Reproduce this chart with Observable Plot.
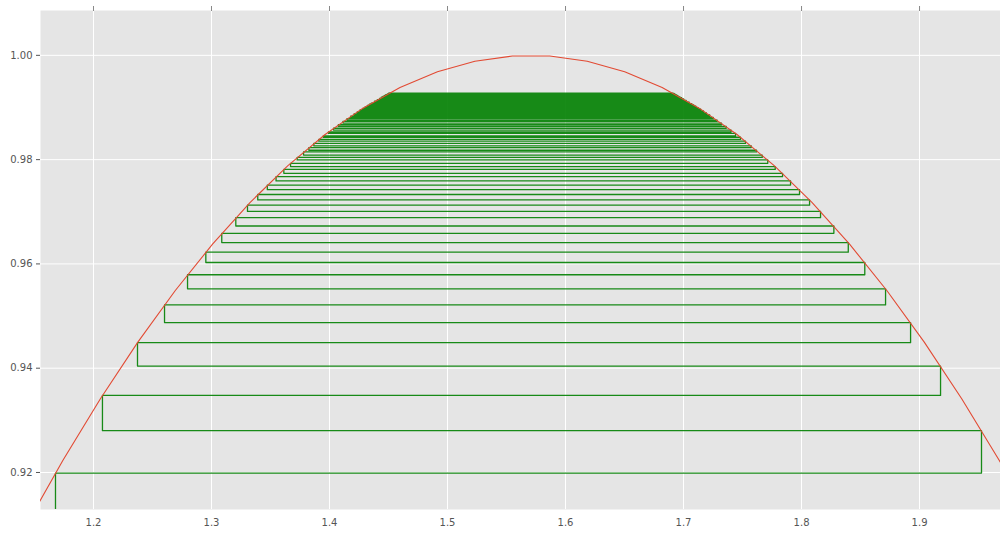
<!DOCTYPE html>
<html>
<head>
<meta charset="utf-8">
<script src="https://cdn.jsdelivr.net/npm/d3@7"></script>
<script src="https://cdn.jsdelivr.net/npm/@observablehq/plot@0.6"></script>
<style>
  html, body { margin: 0; padding: 0; background: #ffffff; }
  #chart svg { display: block; }
</style>
</head>
<body>
<div id="chart"></div>
<script>
// Red curve samples (x, y)
const curveX = [1.14240, 1.17413, 1.20587, 1.23760, 1.26933, 1.30107, 1.33280, 1.36453, 1.39627, 1.42800,
  1.45973, 1.49147, 1.52320, 1.55493, 1.58667, 1.61840, 1.65013, 1.68187, 1.71360, 1.74533,
  1.77707, 1.80880, 1.84053, 1.87227, 1.90400, 1.93573, 1.96747, 1.99920];
const curveY = [0.90963, 0.92235, 0.93415, 0.94500, 0.95490, 0.96384, 0.97181, 0.97880, 0.98481, 0.98982,
  0.99384, 0.99685, 0.99887, 0.99987, 0.99987, 0.99887, 0.99685, 0.99384, 0.98982, 0.98481,
  0.97880, 0.97181, 0.96384, 0.95490, 0.94500, 0.93415, 0.92235, 0.90963];

// Green step path: iterate points (x_n, f_n); the path starts below the view
const startF = 0.9100;
const greenX = [1.1678, 1.9525, 1.2076, 1.9178, 1.2373, 1.8924, 1.2602, 1.8712, 1.2797, 1.8536,
  1.2952, 1.8396, 1.3087, 1.8274, 1.3206, 1.8161, 1.3305, 1.8068, 1.3392, 1.7983,
  1.3473, 1.7907, 1.3547, 1.7839, 1.3613, 1.7777, 1.3670, 1.7714, 1.3726, 1.7667,
  1.3780, 1.7619, 1.3825, 1.7574, 1.3867, 1.7525, 1.3909, 1.7483, 1.3947, 1.7441,
  1.3991, 1.7403, 1.4034, 1.7362, 1.4075, 1.7322, 1.4114, 1.7285, 1.4148, 1.7252,
  1.4179, 1.7222, 1.4208, 1.7194, 1.4235, 1.7169, 1.4259, 1.7145, 1.4282, 1.7124,
  1.4302, 1.7104, 1.4321, 1.7086, 1.4338, 1.7070, 1.4354, 1.7048, 1.4382, 1.7022,
  1.4405, 1.7001, 1.4424, 1.6984, 1.4439, 1.6970, 1.4452, 1.6958, 1.4463, 1.6949,
  1.4471, 1.6941, 1.4478, 1.6935, 1.4484, 1.6930, 1.4488, 1.6926, 1.4492, 1.6919,
  1.4501, 1.6911, 1.4507];
const greenF = [0.91989, 0.92802, 0.93478, 0.94040, 0.94490, 0.94874, 0.95214, 0.95522, 0.95792, 0.96027,
  0.96225, 0.96410, 0.96586, 0.96727, 0.96886, 0.97006, 0.97127, 0.97228, 0.97331, 0.97423,
  0.97512, 0.97592, 0.97673, 0.97738, 0.97813, 0.97867, 0.97929, 0.97994, 0.98043, 0.98088,
  0.98147, 0.98180, 0.98232, 0.98265, 0.98310, 0.98353, 0.98387, 0.98429, 0.98453, 0.98503,
  0.98530, 0.98567, 0.98602, 0.98636, 0.98669, 0.98701, 0.98732, 0.98759, 0.98786, 0.98810,
  0.98834, 0.98856, 0.98877, 0.98898, 0.98917, 0.98935, 0.98952, 0.98969, 0.98984, 0.98999,
  0.99013, 0.99027, 0.99039, 0.99051, 0.99063, 0.99074, 0.99084, 0.99104, 0.99122, 0.99138,
  0.99152, 0.99165, 0.99176, 0.99187, 0.99196, 0.99205, 0.99212, 0.99219, 0.99225, 0.99231,
  0.99236, 0.99241, 0.99245, 0.99248, 0.99252, 0.99254, 0.99257, 0.99260, 0.99262, 0.99268,
  0.99273, 0.99277, 0.99280];

// Ticks
const xTicks = [1.2, 1.3, 1.4, 1.5, 1.6, 1.7, 1.8, 1.9];
const xTickLabels = ["1.2", "1.3", "1.4", "1.5", "1.6", "1.7", "1.8", "1.9"];
const yTicks = [0.92, 0.94, 0.96, 0.98, 1.00];
const yTickLabels = ["0.92", "0.94", "0.96", "0.98", "1.00"];

// Build tables
const curve = curveX.map((x, i) => ({x, y: curveY[i]}));
const steps = [{x: greenX[0], y: startF}];
for (let i = 0; i < greenX.length; i++) {
  if (i > 0) steps.push({x: greenX[i], y: greenF[i - 1]});
  steps.push({x: greenX[i], y: greenF[i]});
}

const chart = Plot.plot({
  width: 1000,
  height: 533,
  marginLeft: 40,
  marginRight: 0,
  marginTop: 10,
  marginBottom: 24,
  style: {fontFamily: "DejaVu Sans", fontSize: "10px", color: "#555555", background: "#ffffff"},
  x: {domain: [1.1551, 1.9686]},
  y: {domain: [0.9129, 1.0086]},
  marks: [
    Plot.frame({fill: "#E5E5E5", stroke: null}),
    Plot.gridX(xTicks, {stroke: "#ffffff", strokeOpacity: 1, strokeWidth: 1}),
    Plot.gridY(yTicks, {stroke: "#ffffff", strokeOpacity: 1, strokeWidth: 1}),
    Plot.line(steps, {x: "x", y: "y", stroke: "green", strokeOpacity: 0.9, strokeWidth: 1.3, clip: true}),
    Plot.line(curve, {x: "x", y: "y", stroke: "#E24A33", strokeWidth: 1.1, clip: true}),
    Plot.axisX(xTicks, {anchor: "bottom", tickSize: 0, tickPadding: 9, tickFormat: (d, i) => xTickLabels[i], label: null}),
    Plot.axisX(xTicks, {anchor: "top", tickSize: 5, text: null, label: null, stroke: "#888888"}),
    Plot.axisY(yTicks, {anchor: "left", tickSize: 4, tickPadding: 4, tickFormat: (d, i) => yTickLabels[i], label: null})
  ]
});
document.getElementById("chart").appendChild(chart);
</script>
</body>
</html>
